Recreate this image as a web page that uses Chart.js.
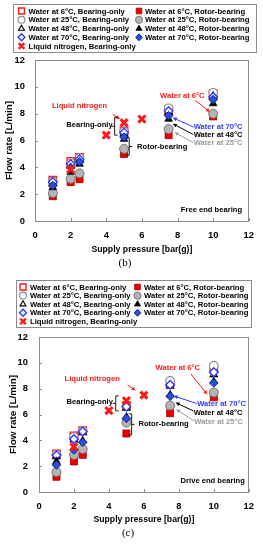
<!DOCTYPE html>
<html><head><meta charset="utf-8">
<script src="https://cdn.jsdelivr.net/npm/chart.js@4"></script>
<style>
body{margin:0;background:#fff;width:263px;height:550px;overflow:hidden}
.w{position:absolute;left:0;width:263px;height:275px}
</style>
</head><body>
<div class="w" style="top:0"><canvas id="cb"></canvas></div>
<div class="w" style="top:275px"><canvas id="cc"></canvas></div>
<script>
// ---------- data ----------
const xPress = [1, 2, 2.5, 5, 7.5, 10];
const lnX = [2, 4, 5, 6];
const xTicks = [0, 2, 4, 6, 8, 10, 12];
const yTicks = [0, 2, 4, 6, 8, 10, 12];
const seriesLabels = [
  'Water at 6°C, Bearing-only', 'Water at 25°C, Bearing-only',
  'Water at 48°C, Bearing-only', 'Water at 70°C, Bearing-only',
  'Water at 6°C, Rotor-bearing', 'Water at 25°C, Rotor-bearing',
  'Water at 48°C, Rotor-bearing', 'Water at 70°C, Rotor-bearing',
  'Liquid nitrogen, Bearing-only'
];
// (b) Free end bearing
const b_w6_bo  = [3.05, 4.45, 4.75, 6.72, 8.3, 9.5];
const b_w25_bo = [2.95, 4.3, 4.7, 6.68, 8.4, 9.55];
const b_w48_bo = [2.8, 4.1, 4.55, 6.5, 8.1, 9.3];
const b_w70_bo = [2.9, 4.25, 4.6, 6.6, 8.2, 9.25];
const b_w6_rb  = [1.85, 2.9, 3.12, 5.0, 6.4, 7.8];
const b_w25_rb = [2.08, 3.15, 3.55, 5.38, 6.85, 8.0];
const b_w48_rb = [2.5, 3.65, 4.25, 6.1, 7.6, 8.75];
const b_w70_rb = [2.65, 4.0, 4.42, 6.25, 7.85, 9.05];
const b_ln2    = [3.85, 6.4, 7.33, 7.6];
// (c) Drive end bearing
const c_w6_bo  = [2.95, 4.35, 4.75, 6.68, 8.45, 9.55];
const c_w25_bo = [2.9, 4.25, 4.72, 6.65, 8.6, 9.78];
const c_w48_bo = [2.75, 4.05, 4.6, 6.5, 8.2, 9.1];
const c_w70_bo = [2.85, 4.1, 4.68, 6.6, 8.3, 9.28];
const c_w6_rb  = [1.18, 2.37, 2.88, 4.53, 6.1, 7.33];
const c_w25_rb = [1.55, 2.87, 3.33, 5.37, 6.7, 7.7];
const c_w48_rb = [2.37, 3.38, 3.97, 5.8, 7.52, 8.55];
const c_w70_rb = [2.1, 3.25, 3.85, 5.7, 7.42, 8.45];
const c_ln2    = [3.49, 6.3, 7.07, 7.5];

// ---------- styles ----------
const RED = '#ff1a1a', BLUE = '#2f3bff', GREY = '#9a9a9a';
const styles = [
  {ps:'rect', r:5.2, bg:'#fff', bc:RED, bw:1.4, order:19},
  {ps:'circle', r:4.3, bg:'#fff', bc:'#8a8a8a', bw:1.1, order:18},
  {ps:'triangle', r:4.3, bg:'#fff', bc:'#000', bw:1.1, order:17},
  {ps:'rectRot', r:4.3, bg:'#fff', bc:BLUE, bw:1.4, order:16},
  {ps:'rect', r:5.0, bg:'#ee0000', bc:'#a00000', bw:0.8, order:15},
  {ps:'circle', r:4.5, bg:'#b4b4b4', bc:'#707070', bw:0.9, order:14},
  {ps:'triangle', r:4.4, bg:'#000', bc:'#000', bw:0.8, order:13},
  {ps:'rectRot', r:4.3, bg:'#2a4ee0', bc:'#0a1a70', bw:0.9, order:12},
  {ps:'crossRot', r:5.0, bg:RED, bc:RED, bw:3.0, order:1}
];

const FONT = "'Liberation Sans', Arial, sans-serif";
const mctx = document.createElement('canvas').getContext('2d');
function fit(text, width){
  mctx.font = 'bold 10px ' + FONT;
  return Math.round(10 * width / mctx.measureText(text).width * 10) / 10;
}
const SZ = {
  legend: fit('Water at 25°C, Rotor-bearing', 104),
  anno: fit('Water at 48°C', 49),
  xtitle: fit('Supply pressure [bar(g)]', 101),
  ytitle: fit('Flow rate [L/min]', 79),
  tick: fit('10', 10.5)
};

function pts(xs, ys){ return xs.map((x,i)=>({x:x, y:ys[i]})); }

function makeDatasets(series){
  return series.map((ys,i)=>{
    const s = styles[i];
    const xs = (i===8) ? lnX : xPress;
    return {label: seriesLabels[i], data: pts(xs, ys), pointStyle: s.ps,
      pointRadius: s.r, pointBackgroundColor: s.bg, pointBorderColor: s.bc,
      pointBorderWidth: s.bw, backgroundColor: s.bg, borderColor: s.bc,
      showLine:false, order: s.order};
  });
}

function arrow(ctx, x1, y1, x2, y2, col){
  ctx.save();
  ctx.strokeStyle = col; ctx.fillStyle = col; ctx.lineWidth = 1;
  const a = Math.atan2(y2-y1, x2-x1), h = 4.5;
  ctx.beginPath(); ctx.moveTo(x1,y1); ctx.lineTo(x2 - Math.cos(a)*h*0.8, y2 - Math.sin(a)*h*0.8); ctx.stroke();
  ctx.beginPath(); ctx.moveTo(x2,y2);
  ctx.lineTo(x2 - h*Math.cos(a-0.45), y2 - h*Math.sin(a-0.45));
  ctx.lineTo(x2 - h*Math.cos(a+0.45), y2 - h*Math.sin(a+0.45));
  ctx.closePath(); ctx.fill();
  ctx.restore();
}
function bracket(ctx, x, y1, y2, dir){
  ctx.save(); ctx.strokeStyle = '#000'; ctx.lineWidth = 0.9;
  const arm = 3, ym = (y1+y2)/2;
  ctx.beginPath();
  ctx.moveTo(x + dir*arm, y1); ctx.lineTo(x, y1); ctx.lineTo(x, y2); ctx.lineTo(x + dir*arm, y2);
  ctx.moveTo(x, ym); ctx.lineTo(x - dir*arm, ym);
  ctx.stroke(); ctx.restore();
}

const annoPlugin = {
  id: 'anno',
  afterDatasetsDraw(chart, args, opts){
    const ctx = chart.ctx, xs = chart.scales.x, ys = chart.scales.y, ca = chart.chartArea;
    const X = v => xs.getPixelForValue(v), Y = v => ys.getPixelForValue(v);
    ctx.save();
    ctx.strokeStyle = '#8c8c8c'; ctx.lineWidth = 1;
    ctx.strokeRect(Math.round(ca.left)+0.5, Math.round(ca.top)+0.5, Math.round(ca.right-ca.left)-1, Math.round(ca.bottom-ca.top));
    ctx.beginPath();
    xTicks.forEach(v=>{ const px = Math.round(X(v))+0.5; ctx.moveTo(px, ca.bottom); ctx.lineTo(px, ca.bottom-3); });
    yTicks.forEach(v=>{ const py = Math.round(Y(v))+0.5; ctx.moveTo(ca.left, py); ctx.lineTo(ca.left+3, py); });
    ctx.stroke();
    ctx.restore();
    ctx.save();
    ctx.font = 'bold ' + SZ.anno + 'px ' + FONT; ctx.textBaseline = 'middle';
    opts.texts.forEach(t=>{ ctx.fillStyle = t.c; ctx.textAlign = t.a; ctx.fillText(t.t, X(t.x), Y(t.y)); });
    ctx.restore();
    opts.arrows.forEach(a=>arrow(ctx, X(a.x1), Y(a.y1), X(a.x2), Y(a.y2), a.c));
    opts.brackets.forEach(b=>bracket(ctx, X(b.x), Y(b.y1), Y(b.y2), b.d));
    ctx.save(); ctx.fillStyle = '#000'; ctx.font = "11px 'Liberation Serif', serif";
    ctx.textAlign = 'center'; ctx.textBaseline = 'middle';
    ctx.fillText(opts.caption.t, opts.caption.x, opts.caption.y); ctx.restore();
    const L = opts.legend;
    ctx.save();
    ctx.strokeStyle = '#8c8c8c'; ctx.lineWidth = 1;
    ctx.strokeRect(L.x1+0.5, L.y1+0.5, L.x2-L.x1, L.y2-L.y1);
    ctx.font = 'bold ' + SZ.legend + 'px ' + FONT; ctx.textBaseline = 'middle'; ctx.textAlign = 'left';
    const grid = [[0,4],[1,5],[2,6],[3,7],[8]];
    grid.forEach((row, ri)=>{
      const y = L.rows[ri];
      row.forEach((si, ci)=>{
        const s = styles[si];
        const sx = ci===0 ? L.s1 : L.s2, tx = ci===0 ? L.t1 : L.t2;
        ctx.save();
        ctx.fillStyle = s.bg; ctx.strokeStyle = s.bc; ctx.lineWidth = s.ps==='crossRot'?2.4:s.bw;
        Chart.helpers.drawPoint(ctx, {pointStyle: s.ps, radius: s.r*0.8, borderWidth: ctx.lineWidth, rotation: 0}, sx, y);
        ctx.restore();
        ctx.fillStyle = '#000';
        ctx.fillText(seriesLabels[si], tx, y + 0.5);
      });
    });
    ctx.restore();
  }
};

function makeChart(id, series, g, anno){
  return new Chart(document.getElementById(id), {
    type: 'scatter',
    data: {datasets: makeDatasets(series)},
    plugins: [annoPlugin],
    options: {
      responsive: true, maintainAspectRatio: false, animation: false,
      layout: {padding: {top: g.top, right: g.right, bottom: g.bottom, left: 0}},
      plugins: {legend: {display: false}, tooltip: {enabled: false}, anno: anno},
      scales: {
        x: {type: 'linear', min: 0, max: 12,
          afterFit: s => { s.height = g.xh; },
          afterBuildTicks: s => { s.ticks = xTicks.map(v=>({value:v})); },
          grid: {display: false, drawTicks: false}, border: {display: false},
          ticks: {color: '#000', padding: g.xtp, font: {family: FONT, weight: 'bold', size: SZ.tick}},
          title: {display: true, text: 'Supply pressure [bar(g)]', color: '#000',
            font: {family: FONT, weight: 'bold', size: SZ.xtitle}, padding: {top: 0, bottom: g.xtt}}},
        y: {type: 'linear', min: 0, max: 12,
          afterFit: s => { s.width = g.yw; },
          afterBuildTicks: s => { s.ticks = yTicks.map(v=>({value:v})); },
          grid: {display: false, drawTicks: false}, border: {display: false},
          ticks: {color: '#000', padding: g.ytp, font: {family: FONT, weight: 'bold', size: SZ.tick}},
          title: {display: true, text: 'Flow rate [L/min]', color: '#000',
            font: {family: FONT, weight: 'bold', size: SZ.ytitle}, padding: {top: g.ytt, bottom: 0}}}
      }
    }
  });
}

makeChart('cb',
  [b_w6_bo, b_w25_bo, b_w48_bo, b_w70_bo, b_w6_rb, b_w25_rb, b_w48_rb, b_w70_rb, b_ln2],
  {top: 60, right: 8, bottom: 19, xh: 35, yw: 35, xtp: 9, ytp: 10, xtt: 1, ytt: 3},
  {
    texts: [
      {t:'Water at 6°C', x:8.27, y:9.3, c:RED, a:'center'},
      {t:'Liquid nitrogen', x:2.5, y:8.6, c:RED, a:'center'},
      {t:'Bearing-only', x:4.36, y:7.13, c:'#000', a:'right'},
      {t:'Rotor-bearing', x:5.73, y:5.55, c:'#000', a:'left'},
      {t:'Water at 70°C', x:8.91, y:6.98, c:BLUE, a:'left'},
      {t:'Water at 48°C', x:8.91, y:6.4, c:'#000', a:'left'},
      {t:'Water at 25°C', x:8.91, y:5.83, c:GREY, a:'left'},
      {t:'Free end bearing', x:11.62, y:0.83, c:'#000', a:'right'}
    ],
    arrows: [
      {x1:9.0, y1:9.0, x2:9.82, y2:8.12, c:RED},
      {x1:4.36, y1:7.95, x2:4.78, y2:7.6, c:RED},
      {x1:8.9, y1:7.0, x2:7.73, y2:7.7, c:BLUE},
      {x1:8.88, y1:6.45, x2:7.73, y2:7.25, c:'#000'},
      {x1:8.88, y1:5.85, x2:7.82, y2:6.62, c:GREY}
    ],
    brackets: [
      {x:4.47, y1:7.73, y2:6.4, d:1},
      {x:5.29, y1:6.2, y2:4.9, d:-1}
    ],
    caption: {t:'(b)', x:125, y:263},
    legend: {x1:13, y1:4, x2:256, y2:52, rows:[11, 19.8, 28.6, 37.3, 46], s1:21.5, t1:28.5, s2:139, t2:145}
  });

makeChart('cc',
  [c_w6_bo, c_w25_bo, c_w48_bo, c_w70_bo, c_w6_rb, c_w25_rb, c_w48_rb, c_w70_rb, c_ln2],
  {top: 62, right: 11, bottom: 23, xh: 35, yw: 39, xtp: 9, ytp: 11, xtt: 2, ytt: 7},
  {
    texts: [
      {t:'Water at 6°C', x:7.94, y:9.6, c:RED, a:'center'},
      {t:'Liquid nitrogen', x:3.04, y:8.76, c:RED, a:'center'},
      {t:'Bearing-only', x:4.23, y:6.98, c:'#000', a:'right'},
      {t:'Rotor-bearing', x:5.69, y:5.27, c:'#000', a:'left'},
      {t:'Water at 70°C', x:9.05, y:6.82, c:BLUE, a:'left'},
      {t:'Water at 48°C', x:8.85, y:6.12, c:'#000', a:'left'},
      {t:'Water at 25°C', x:8.88, y:5.43, c:GREY, a:'left'},
      {t:'Drive end bearing', x:11.77, y:0.85, c:'#000', a:'right'}
    ],
    arrows: [
      {x1:8.68, y1:9.15, x2:9.63, y2:7.55, c:RED},
      {x1:5.07, y1:8.29, x2:5.52, y2:7.85, c:RED},
      {x1:9.02, y1:6.85, x2:7.7, y2:7.44, c:BLUE},
      {x1:8.83, y1:6.28, x2:7.81, y2:6.92, c:'#000'},
      {x1:8.86, y1:5.5, x2:7.85, y2:6.41, c:GREY}
    ],
    brackets: [
      {x:4.39, y1:7.44, y2:6.28, d:1},
      {x:5.3, y1:6.05, y2:4.42, d:-1}
    ],
    caption: {t:'(c)', x:128, y:258},
    legend: {x1:16, y1:5, x2:251, y2:52, rows:[12, 20.6, 29.2, 37.8, 46.4], s1:23, t1:30, s2:137.5, t2:144}
  });
</script>
</body></html>
